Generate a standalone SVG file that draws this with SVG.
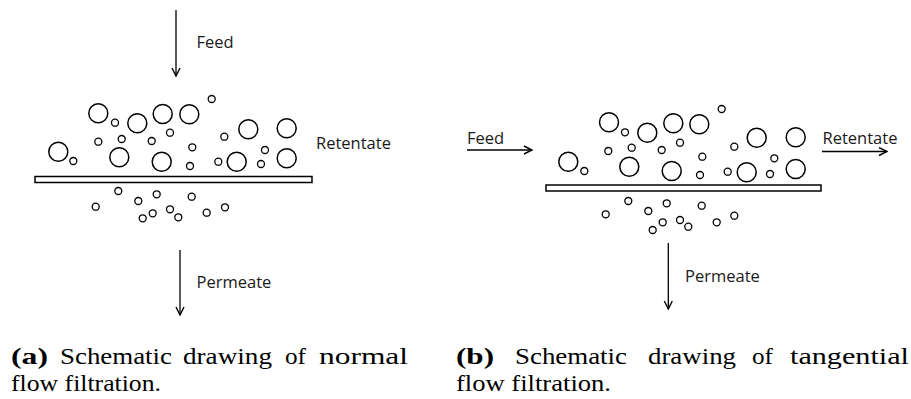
<svg xmlns="http://www.w3.org/2000/svg" width="911" height="399" viewBox="0 0 911 399">
<defs>
<style>
.p{fill:none;stroke:#000;stroke-width:1.5}
.s{fill:none;stroke:#000;stroke-width:1.3}
.m{fill:#fff;stroke:#000;stroke-width:1.5}
.a{fill:none;stroke:#000;stroke-width:1.3}
.l{font-family:"Open Sans","Liberation Sans",sans-serif;font-size:16.5px;fill:#1a1a1a}
.c{font-family:"Liberation Serif","DejaVu Serif",serif;font-size:24px;fill:#000}
.b{font-weight:bold}
</style>
<marker id="ah" viewBox="0 0 10 10" refX="9" refY="5" markerWidth="10" markerHeight="10" markerUnits="userSpaceOnUse" orient="auto">
<path d="M1,1 L9,5 L1,9" fill="none" stroke="#000" stroke-width="1.4"/>
</marker>
</defs>
<rect width="911" height="399" fill="#fff"/>

<g id="panel-a">
<g id="membrane-a"><rect class="m" x="35" y="176.5" width="277" height="6"/></g>
<g id="large-a">
<circle class="p" cx="98.3" cy="113.3" r="9.5"/>
<circle class="p" cx="137.3" cy="123.3" r="9.5"/>
<circle class="p" cx="162.7" cy="114" r="9.5"/>
<circle class="p" cx="189.3" cy="114.3" r="9.5"/>
<circle class="p" cx="248.3" cy="129.3" r="9.5"/>
<circle class="p" cx="286.7" cy="128.3" r="9.5"/>
<circle class="p" cx="58.3" cy="151.7" r="9.5"/>
<circle class="p" cx="119.3" cy="157.3" r="9.5"/>
<circle class="p" cx="161.7" cy="161.7" r="9.5"/>
<circle class="p" cx="236.7" cy="161.7" r="9.5"/>
<circle class="p" cx="286.7" cy="158.3" r="9.5"/>
</g>
<g id="small-a">
<circle class="s" cx="211.7" cy="99" r="3.5"/>
<circle class="s" cx="115" cy="122.7" r="3.5"/>
<circle class="s" cx="170" cy="132.7" r="3.5"/>
<circle class="s" cx="98.3" cy="141.7" r="3.5"/>
<circle class="s" cx="121.7" cy="139" r="3.5"/>
<circle class="s" cx="151.7" cy="141" r="3.5"/>
<circle class="s" cx="224.3" cy="136.7" r="3.5"/>
<circle class="s" cx="192.3" cy="147.3" r="3.5"/>
<circle class="s" cx="265" cy="150" r="3.5"/>
<circle class="s" cx="73.3" cy="161" r="3.5"/>
<circle class="s" cx="190" cy="166" r="3.5"/>
<circle class="s" cx="218.3" cy="161.7" r="3.5"/>
<circle class="s" cx="261" cy="164" r="3.5"/>
<circle class="s" cx="118.3" cy="191" r="3.5"/>
<circle class="s" cx="156.7" cy="194.3" r="3.5"/>
<circle class="s" cx="191.7" cy="196.7" r="3.5"/>
<circle class="s" cx="138.3" cy="201" r="3.5"/>
<circle class="s" cx="95.7" cy="206.7" r="3.5"/>
<circle class="s" cx="152.7" cy="213.3" r="3.5"/>
<circle class="s" cx="170" cy="209.3" r="3.5"/>
<circle class="s" cx="142.7" cy="218.3" r="3.5"/>
<circle class="s" cx="178.3" cy="217.3" r="3.5"/>
<circle class="s" cx="206.7" cy="212.7" r="3.5"/>
<circle class="s" cx="225" cy="207.3" r="3.5"/>
</g>
</g>

<g id="panel-b">
<g id="membrane-b"><rect class="m" x="546" y="185" width="275" height="6"/></g>
<g id="large-b">
<circle class="p" cx="609" cy="122.3" r="9.5"/>
<circle class="p" cx="647.3" cy="132.7" r="9.5"/>
<circle class="p" cx="673.3" cy="123.3" r="9.5"/>
<circle class="p" cx="699.3" cy="124.3" r="9.5"/>
<circle class="p" cx="756.7" cy="137.7" r="9.5"/>
<circle class="p" cx="795.7" cy="137.3" r="9.5"/>
<circle class="p" cx="568.3" cy="161.7" r="9.5"/>
<circle class="p" cx="629.3" cy="166.7" r="9.5"/>
<circle class="p" cx="671.7" cy="171" r="9.5"/>
<circle class="p" cx="746.7" cy="172.3" r="9.5"/>
<circle class="p" cx="795.7" cy="169" r="9.5"/>
</g>
<g id="small-b">
<circle class="s" cx="721.7" cy="109" r="3.5"/>
<circle class="s" cx="625" cy="132.3" r="3.5"/>
<circle class="s" cx="680" cy="142.7" r="3.5"/>
<circle class="s" cx="608.3" cy="151" r="3.5"/>
<circle class="s" cx="631.7" cy="147.7" r="3.5"/>
<circle class="s" cx="661.7" cy="150" r="3.5"/>
<circle class="s" cx="734.3" cy="146.7" r="3.5"/>
<circle class="s" cx="702.3" cy="156.7" r="3.5"/>
<circle class="s" cx="774.3" cy="158.3" r="3.5"/>
<circle class="s" cx="584.3" cy="171" r="3.5"/>
<circle class="s" cx="700" cy="175" r="3.5"/>
<circle class="s" cx="727.7" cy="171.7" r="3.5"/>
<circle class="s" cx="770" cy="174" r="3.5"/>
<circle class="s" cx="628.3" cy="201" r="3.5"/>
<circle class="s" cx="666.7" cy="203.3" r="3.5"/>
<circle class="s" cx="701.7" cy="205.7" r="3.5"/>
<circle class="s" cx="648.3" cy="211" r="3.5"/>
<circle class="s" cx="605.7" cy="214.3" r="3.5"/>
<circle class="s" cx="662.7" cy="222.3" r="3.5"/>
<circle class="s" cx="680" cy="220" r="3.5"/>
<circle class="s" cx="652.7" cy="230" r="3.5"/>
<circle class="s" cx="688.3" cy="226.7" r="3.5"/>
<circle class="s" cx="716.7" cy="222.3" r="3.5"/>
<circle class="s" cx="734.3" cy="215.7" r="3.5"/>
</g>
</g>

<g id="connectors">
<line class="a" x1="176" y1="10" x2="176" y2="76" marker-end="url(#ah)"/>
<line class="a" x1="180" y1="250" x2="180" y2="315" marker-end="url(#ah)"/>
<line class="a" x1="467" y1="150" x2="532" y2="150" marker-end="url(#ah)"/>
<line class="a" x1="822" y1="151.5" x2="887" y2="151.5" marker-end="url(#ah)"/>
<line class="a" x1="668.3" y1="243" x2="668.3" y2="309" marker-end="url(#ah)"/>
</g>

<g id="labels">
<text class="l" x="196.5" y="48">Feed</text>
<text class="l" x="316" y="149">Retentate</text>
<text class="l" x="196.5" y="288">Permeate</text>
<text class="l" x="467" y="144">Feed</text>
<text class="l" x="822.5" y="144">Retentate</text>
<text class="l" x="685" y="282">Permeate</text>
</g>

<g id="captions">
<text class="c b" x="11" y="364" textLength="37" lengthAdjust="spacingAndGlyphs">(a)</text>
<text class="c" x="60" y="364" textLength="112" lengthAdjust="spacingAndGlyphs">Schematic</text>
<text class="c" x="183" y="364" textLength="89" lengthAdjust="spacingAndGlyphs">drawing</text>
<text class="c" x="285" y="364" textLength="21" lengthAdjust="spacingAndGlyphs">of</text>
<text class="c" x="319" y="364" textLength="89" lengthAdjust="spacingAndGlyphs">normal</text>
<text class="c" x="11" y="391" textLength="150" lengthAdjust="spacingAndGlyphs">flow filtration.</text>
<text class="c b" x="456" y="364" textLength="38" lengthAdjust="spacingAndGlyphs">(b)</text>
<text class="c" x="515" y="364" textLength="112" lengthAdjust="spacingAndGlyphs">Schematic</text>
<text class="c" x="648" y="364" textLength="88" lengthAdjust="spacingAndGlyphs">drawing</text>
<text class="c" x="752" y="364" textLength="21" lengthAdjust="spacingAndGlyphs">of</text>
<text class="c" x="790" y="364" textLength="119" lengthAdjust="spacingAndGlyphs">tangential</text>
<text class="c" x="456" y="391" textLength="155" lengthAdjust="spacingAndGlyphs">flow filtration.</text>
</g>
</svg>
